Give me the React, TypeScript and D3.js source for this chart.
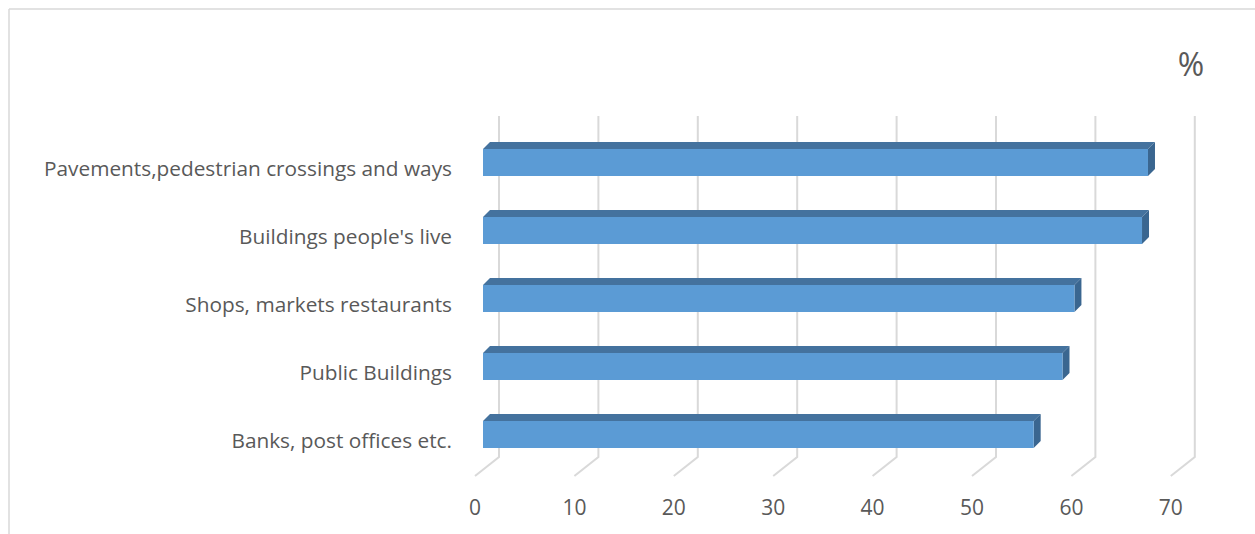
import React from "react";
import * as d3 from "d3";

const categories = [
  "Pavements,pedestrian crossings and ways",
  "Buildings people's live",
  "Shops, markets restaurants",
  "Public Buildings",
  "Banks, post offices etc.",
];
const values = [66.9, 66.3, 59.5, 58.3, 55.4];
const ticks = [0, 10, 20, 30, 40, 50, 60, 70];
const unitLabel = "%";

const W = 1255;
const H = 534;
const FONT = "'Open Sans', sans-serif";

export default function App() {
  // bar front plane x scale
  const x = d3.scaleLinear().domain([0, 70]).range([483, 483 + 70 * 9.94]);
  const y = d3
    .scaleBand<string>()
    .domain(categories)
    .range([128.5, 468.5])
    .paddingInner(0.603)
    .paddingOuter(0.3015);
  const bw = y.bandwidth();
  const backDx = 16;
  const floorDx = -8;
  const floorY = 476;
  const depthDx = 7, depthDy = -7;
  const gridTop = 116;
  const gridBottom = 457;

  return (
    <svg width={W} height={H} style={{ position: "absolute", left: 0, top: 0 }}>
      <rect x={0} y={0} width={W} height={H} fill="#fff" />
      <line x1={9} y1={9} x2={W} y2={9} stroke="#d9d9d9" strokeWidth={1.5} />
      <line x1={9} y1={9} x2={9} y2={H} stroke="#d9d9d9" strokeWidth={1.5} />
      {ticks.map((t) => {
        const bx = x(t) + backDx;
        const fx = x(t) + floorDx;
        return (
          <g key={t}>
            <polyline
              points={`${bx},${gridTop} ${bx},${gridBottom} ${fx},${floorY}`}
              fill="none"
              stroke="#d9d9d9"
              strokeWidth={2}
            />
            <text
              x={fx}
              y={507}
              textAnchor="middle"
              dominantBaseline="central"
              fill="#595959"
              fontFamily={FONT}
              fontSize={21}
            >
              {t}
            </text>
          </g>
        );
      })}
      {categories.map((c, i) => {
        const y0 = y(c)!;
        const x0 = x(0);
        const x1 = x(values[i]);
        return (
          <g key={c}>
            <polygon
              points={`${x0},${y0} ${x0 + depthDx},${y0 + depthDy} ${x1 + depthDx},${y0 + depthDy} ${x1},${y0}`}
              fill="#44729e"
            />
            <polygon
              points={`${x1},${y0} ${x1 + depthDx},${y0 + depthDy} ${x1 + depthDx},${y0 + bw + depthDy} ${x1},${y0 + bw}`}
              fill="#3a6690"
            />
            <rect x={x0} y={y0} width={x1 - x0} height={bw} fill="#5b9bd5" />
            <text
              x={452}
              y={y0 + bw / 2 + 5}
              textAnchor="end"
              dominantBaseline="central"
              fill="#595959"
              fontFamily={FONT}
              fontSize={20.8}
            >
              {c}
            </text>
          </g>
        );
      })}
      <text
        x={1191}
        y={63}
        textAnchor="middle"
        dominantBaseline="central"
        fill="#595959"
        fontFamily={FONT}
        fontSize={32}
      >
        {unitLabel}
      </text>
    </svg>
  );
}
